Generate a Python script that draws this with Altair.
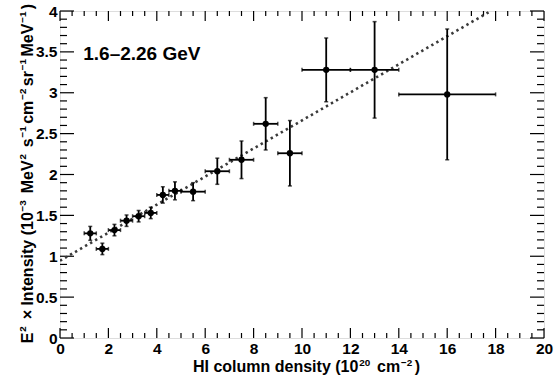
import altair as alt
import pandas as pd

# ---- data ----
hi_density = [1.25, 1.75, 2.25, 2.75, 3.25, 3.75, 4.25, 4.75, 5.5, 6.5, 7.5, 8.5, 9.5, 11.0, 13.0, 16.0]
hi_err     = [0.25, 0.25, 0.25, 0.25, 0.25, 0.25, 0.25, 0.25, 0.5, 0.5, 0.5, 0.5, 0.5, 1.0, 1.0, 2.0]
intensity  = [1.28, 1.09, 1.32, 1.435, 1.49, 1.53, 1.75, 1.80, 1.79, 2.04, 2.18, 2.62, 2.26, 3.28, 3.28, 2.98]
int_err    = [0.085, 0.07, 0.07, 0.07, 0.07, 0.07, 0.10, 0.11, 0.11, 0.16, 0.23, 0.32, 0.40, 0.39, 0.59, 0.80]

fit_x = [0.0, 17.8]
fit_y = [0.945, 4.0]

x_major = [0, 2, 4, 6, 8, 10, 12, 14, 16, 18, 20]
x_minor = [i * 0.5 for i in range(41) if i % 4 != 0]
y_major = [0, 0.5, 1, 1.5, 2, 2.5, 3, 3.5, 4]
y_minor = [round(i * 0.1, 2) for i in range(41) if i % 5 != 0]

label_text = ["1.6\u20132.26 GeV"]
label_x = [0.96]
label_y = [3.40]

# axis titles as (text, is_superscript) segments
x_title = [("HI column density (10", False), ("20", True), (" cm", False), ("\u22122", True), (")", False)]
y_title = [("E", False), ("2", True), (" \u00d7 Intensity (10", False), ("\u22123", True),
           (" MeV", False), ("2", True), (" s", False), ("\u22121", True), ("cm", False),
           ("\u22122", True), ("sr", False), ("\u22121", True), ("MeV", False), ("\u22121", True), (")", False)]

W, H = 484, 327
FONT = "Liberation Sans"

# Helvetica-Bold / Liberation Sans Bold advance widths (1/1000 em)
ADV = {" ": 278, "(": 333, ")": 333, "\u00d7": 584, "\u2212": 584,
       "0": 556, "1": 556, "2": 556, "3": 556,
       "E": 667, "H": 722, "I": 278, "M": 833, "V": 667,
       "c": 556, "d": 611, "e": 556, "i": 278, "l": 278, "m": 889, "n": 611,
       "o": 611, "r": 389, "s": 556, "t": 333, "u": 611, "y": 556}

def seg_layout(segs, f, s, rise):
    out, pos = [], 0.0
    for txt, sup in segs:
        size = f * s if sup else f
        stripped = txt.lstrip(" ")
        pos += (len(txt) - len(stripped)) * ADV[" "] / 1000.0 * size
        if sup:
            pos += 0.8
        out.append((stripped, pos, size, rise * f if sup else 0.0))
        pos += sum(ADV[c] for c in stripped) / 1000.0 * size + (2.4 if sup else 0.0)
    return out, pos

df = pd.DataFrame({
    "x": hi_density,
    "xlo": [a - b for a, b in zip(hi_density, hi_err)],
    "xhi": [a + b for a, b in zip(hi_density, hi_err)],
    "y": intensity,
    "ylo": [a - b for a, b in zip(intensity, int_err)],
    "yhi": [a + b for a, b in zip(intensity, int_err)],
})
fit_df = pd.DataFrame({"x": fit_x, "y": fit_y})

xs = alt.Scale(domain=[0, 20], nice=False, zero=False)
ys = alt.Scale(domain=[0, 4], nice=False, zero=False)

xax = alt.Axis(
    values=x_major, ticks=False, domain=False, grid=False, labelFlush=False,
    labelFont=FONT, labelFontWeight="bold", labelFontSize=15.5, labelColor="black",
    labelPadding=3, title=None,
)
yax = alt.Axis(
    values=y_major, format="~g", ticks=False, domain=False, grid=False, labelFlush=False,
    labelFont=FONT, labelFontWeight="bold", labelFontSize=15.5, labelColor="black",
    labelPadding=3, title=None,
)

X = lambda f: alt.X(f, type="quantitative", scale=xs, axis=xax)
Y = lambda f: alt.Y(f, type="quantitative", scale=ys, axis=yax)

def xticks(vals, length):
    d = pd.DataFrame({"v": vals})
    bot = alt.Chart(d).mark_rule(color="black", strokeWidth=1.2).encode(
        x=X("v"), y=alt.value(H), y2=alt.value(H - length))
    top = alt.Chart(d).mark_rule(color="black", strokeWidth=1.2).encode(
        x=X("v"), y=alt.value(0), y2=alt.value(length))
    return [bot, top]

def yticks(vals, length):
    d = pd.DataFrame({"v": vals})
    left = alt.Chart(d).mark_rule(color="black", strokeWidth=1.2).encode(
        y=Y("v"), x=alt.value(0), x2=alt.value(length))
    right = alt.Chart(d).mark_rule(color="black", strokeWidth=1.2).encode(
        y=Y("v"), x=alt.value(W), x2=alt.value(W - length))
    return [left, right]

tick_layers = xticks(x_major, 10) + xticks(x_minor, 5) + yticks(y_major, 14) + yticks(y_minor, 7)

# axis-title segments (positions relative to the plot area)
title_layers = []
segs, total = seg_layout(x_title, 16.0, 0.62, 0.36)
x0 = 246.5 - total / 2.0
for txt, pos, size, shift in segs:
    title_layers.append(alt.Chart(pd.DataFrame({"t": [txt]})).mark_text(
        font=FONT, fontWeight="bold", fontSize=size, align="left", baseline="alphabetic", color="black"
    ).encode(text="t:N", x=alt.value(x0 + pos), y=alt.value(361 - shift)))

segs, total = seg_layout(y_title, 16.0, 0.62, 0.42)
y0 = 162.5 + total / 2.0
for txt, pos, size, shift in segs:
    title_layers.append(alt.Chart(pd.DataFrame({"t": [txt]})).mark_text(
        font=FONT, fontWeight="bold", fontSize=size, align="left", baseline="alphabetic",
        angle=270, color="black"
    ).encode(text="t:N", x=alt.value(33 - 60 - shift), y=alt.value(y0 - pos)))

fit = alt.Chart(fit_df).mark_line(
    color="#3a3a3a", strokeWidth=2.6, strokeDash=[2.4, 3.4], clip=True
).encode(x=X("x"), y=Y("y"))

base = alt.Chart(df)
xerr = base.mark_rule(color="black", strokeWidth=1.8).encode(x=X("xlo"), x2="xhi", y=Y("y"))
yerr = base.mark_rule(color="black", strokeWidth=1.8).encode(x=X("x"), y=Y("ylo"), y2="yhi")
cap_xlo = base.mark_tick(orient="vertical", size=4, thickness=1.5, color="black").encode(x=X("xlo"), y=Y("y"))
cap_xhi = base.mark_tick(orient="vertical", size=4, thickness=1.5, color="black").encode(x=X("xhi"), y=Y("y"))
cap_ylo = base.mark_tick(orient="horizontal", size=4, thickness=1.5, color="black").encode(x=X("x"), y=Y("ylo"))
cap_yhi = base.mark_tick(orient="horizontal", size=4, thickness=1.5, color="black").encode(x=X("x"), y=Y("yhi"))
pts = base.mark_circle(size=40, color="black", opacity=1).encode(x=X("x"), y=Y("y"))

lab = alt.Chart(pd.DataFrame({"t": label_text, "x": label_x, "y": label_y})).mark_text(
    font=FONT, fontWeight="bold", fontSize=19, align="left", baseline="alphabetic", color="black"
).encode(x=X("x"), y=Y("y"), text="t:N")

chart = alt.layer(
    *tick_layers, fit, xerr, yerr, cap_xlo, cap_xhi, cap_ylo, cap_yhi, pts, lab, *title_layers
).properties(
    width=W, height=H,
    autosize=alt.AutoSizeParams(type="none"),
    padding={"left": 60, "top": 11, "right": 14, "bottom": 38},
).configure_view(stroke="black", strokeWidth=1.5).configure(background="white")

chart.save("out.html", embed_options={"renderer": "svg", "actions": False})
